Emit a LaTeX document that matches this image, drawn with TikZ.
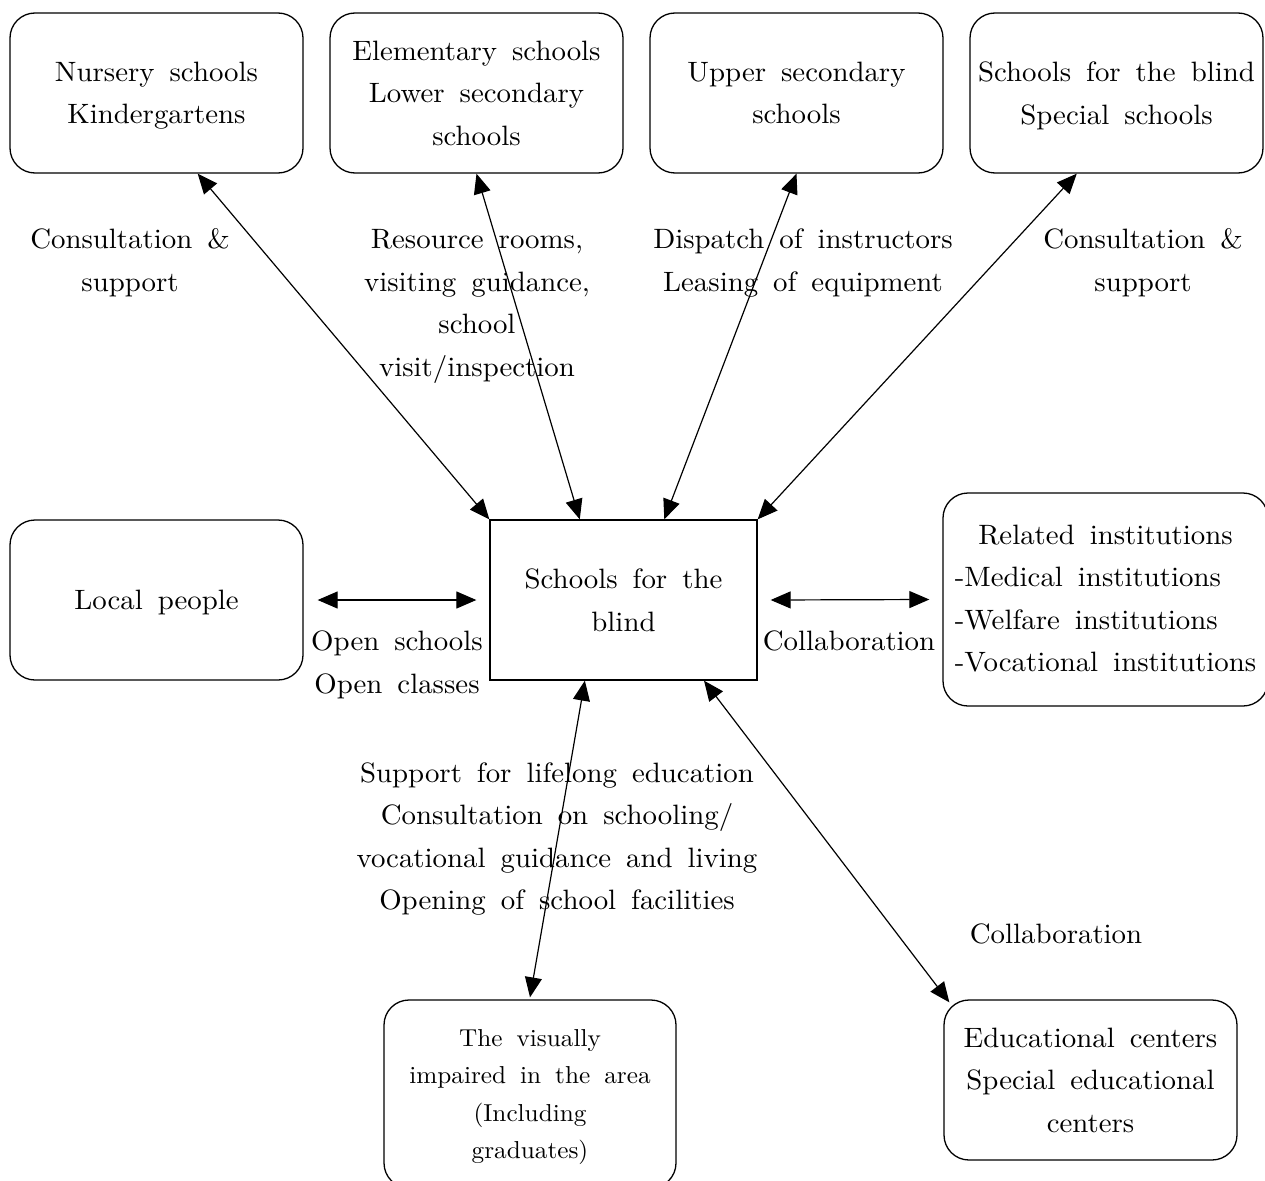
\documentclass[tikz,border=0pt]{standalone}
\usepackage{fontspec}
\setmainfont{lmroman10-regular.otf}[FakeStretch=1.03]
\usetikzlibrary{arrows.meta,calc}
\newcommand\diagfont{\fontsize{28}{42.5}\selectfont\spaceskip=15pt plus 2pt minus 2pt\relax}
\newcommand\smallfont{\fontsize{24.5}{37.3}\selectfont\spaceskip=14pt plus 2pt minus 2pt\relax}
\tikzset{
  rbox/.style={draw, line width=1.3pt, rounded corners=25pt, minimum width=293pt, minimum height=160pt, inner sep=0pt, align=center, font=\diagfont, text depth=0pt},
  sbox/.style={draw, line width=1.3pt, minimum width=267pt, minimum height=160pt, inner sep=0pt, align=center, font=\diagfont, text depth=0pt},
  lbl/.style={inner sep=0pt, align=center, font=\diagfont, text depth=0pt},
  arr/.style={line width=1.2pt, {Triangle[length=20pt,width=17pt]}-{Triangle[length=20pt,width=17pt]}}
}
\begin{document}
\begin{tikzpicture}[x=1pt,y=-1pt]
\useasboundingbox (0,0) rectangle (1265,1180);
% top boxes
\node[rbox] (A) at (156.5,93) {Nursery schools\\Kindergartens};
\node[rbox] (B) at (476.5,93) {Elementary schools\\Lower secondary\\schools};
\node[rbox] (C) at (796.5,93) {Upper secondary\\schools};
\node[rbox] (D) at (1116.5,93) {Schools for the blind\\Special schools};
% middle row
\node[rbox] (L) at (156.5,600) {Local people};
\node[sbox] (S) at (623.5,600) {Schools for the\\blind};
\node[rbox, minimum width=325pt, minimum height=213pt, text depth={}] (R) at (1105.5,599.5)
  {\begin{tabular}{@{}l@{}}\multicolumn{1}{@{}c@{}}{Related institutions}\\-Medical institutions\\-Welfare institutions\\-Vocational institutions\end{tabular}};
% bottom row
\node[rbox, minimum width=292pt, minimum height=188pt, font=\smallfont] (V) at (530,1094)
  {The visually\\impaired in the area\\(Including\\graduates)};
\node[rbox] (E) at (1090.5,1080) {Educational centers\\Special educational\\centers};
% labels
\node[lbl] (l1) at (130,260) {Consultation \&\\support};
\node[lbl] (l2) at (477,303) {Resource rooms,\\visiting guidance,\\school\\visit/inspection};
\node[lbl] (l3) at (803,260) {Dispatch of instructors\\Leasing of equipment};
\node[lbl] (l4) at (1143,260) {Consultation \&\\support};
\node[lbl] (l5) at (397,662) {Open schools\\Open classes};
\node[lbl] (l6) at (849,641) {Collaboration};
\node[lbl] (l7) at (557,836) {Support for lifelong education\\Consultation on schooling/\\vocational guidance and living\\Opening of school facilities};
\node[lbl] (l8) at (1056,934) {Collaboration};
% connectors
\draw[arr] ($(A.south west)!0.64!(A.south east)$) -- (S.north west);
\draw[arr] (B.south) -- ($(S.north west)!0.337!(S.north east)$);
\draw[arr] (C.south) -- ($(S.north west)!0.652!(S.north east)$);
\draw[arr] ($(D.south west)!0.365!(D.south east)$) -- (S.north east);
\draw[arr] ([xshift=14pt]L.east) -- ([xshift=-13pt]S.west);
\draw[arr] ([xshift=13pt]S.east) -- ([xshift=-13pt]R.west);
\draw[arr] ($(S.south west)!0.356!(S.south east)$) -- ([yshift=2pt]V.north);
\draw[arr] ($(S.south west)!0.80!(S.south east)$) -- ($(E.north west)+(6,3)$);
\end{tikzpicture}
\end{document}
